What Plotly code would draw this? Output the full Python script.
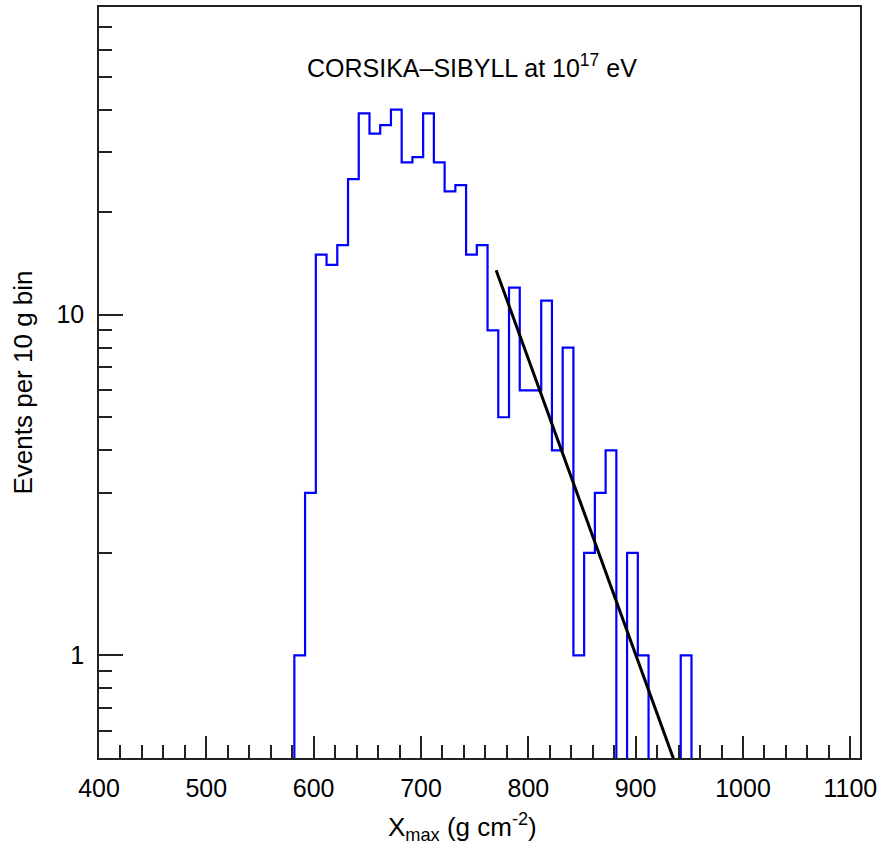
import plotly.graph_objects as go

# ---- data ----
bin_low_edges = [582, 592, 602, 612, 622, 632, 642, 652, 662, 672, 682, 692, 702, 712,
                 722, 732, 742, 752, 762, 772, 782, 792, 802, 812, 822, 832, 842, 852,
                 862, 872, 882, 892, 902, 912, 922, 932, 942]
bin_width = 10
counts = [1, 3, 15, 14, 16, 25, 39, 34, 36, 40, 28, 29, 39, 28,
          23, 24, 15, 16, 9, 5, 12, 6, 6, 11, 4, 8, 1, 2,
          3, 4, 0, 2, 1, 0, 0, 0, 1]

fit_x = [770, 936]
fit_y = [13.5, 0.49]

x_tick_vals = [400, 500, 600, 700, 800, 900, 1000, 1100]
x_tick_text = ["400", "500", "600", "700", "800", "900", "1000", "1100"]
x_minor_vals = [v for v in range(400, 1110, 20)]
y_tick_vals = [1, 10]
y_tick_text = ["1", "10"]
y_minor_vals = [0.6, 0.7, 0.8, 0.9, 2, 3, 4, 5, 6, 7, 8, 9, 20, 30, 40, 50, 60, 70]

title_text = "CORSIKA\u2013SIBYLL at 10<sup>17</sup> eV"
x_title = "X<sub>max</sub> (g cm<sup>-2</sup>)"
y_title = "Events per 10 g bin"

# ---- build step outline (zero bins drawn down below the frame) ----
floor = 0.2
draw_counts = [c if c > 0 else floor for c in counts]
xs = [bin_low_edges[0]] + bin_low_edges + [bin_low_edges[-1] + bin_width]
ys = [floor] + draw_counts + [floor]

FONT = "Liberation Sans, Arial, Helvetica, sans-serif"
TICK_SIZE = 25
TITLE_SIZE = 26

fig = go.Figure()
fig.add_trace(go.Scatter(x=xs, y=ys, mode="lines", line=dict(color="#0000ff", width=2.2, shape="hv"),
                         showlegend=False, hoverinfo="skip"))
fig.add_trace(go.Scatter(x=fit_x, y=fit_y, mode="lines", line=dict(color="black", width=3),
                         showlegend=False, hoverinfo="skip"))

fig.update_layout(
    width=882, height=865,
    margin=dict(l=99, r=20, t=5, b=107),
    paper_bgcolor="white", plot_bgcolor="white",
    font=dict(family=FONT, size=TICK_SIZE, color="black"),
    xaxis=dict(range=[400, 1109], showgrid=False, zeroline=False,
               showline=True, linecolor="#222", linewidth=1.5, mirror=True,
               ticks="inside", ticklen=22, tickwidth=1.5, tickcolor="#222",
               tickmode="array", tickvals=x_tick_vals, ticktext=x_tick_text,
               tickfont=dict(size=TICK_SIZE, family=FONT, color="black"),
               ticklabelstandoff=7,
               minor=dict(ticks="inside", ticklen=13, tickwidth=1.5, tickcolor="#222",
                          tickmode="array", tickvals=x_minor_vals, showgrid=False)),
    yaxis=dict(type="log", range=[-0.301, 1.903], showgrid=False, zeroline=False,
               showline=True, linecolor="#222", linewidth=1.5, mirror=True,
               ticks="inside", ticklen=24, tickwidth=1.5, tickcolor="#222",
               tickmode="array", tickvals=y_tick_vals, ticktext=y_tick_text,
               tickfont=dict(size=TICK_SIZE, family=FONT, color="black"),
               ticklabelstandoff=8,
               minor=dict(ticks="inside", ticklen=13, tickwidth=1.5, tickcolor="#222",
                          tickmode="array", tickvals=y_minor_vals, showgrid=False),
               title=dict(text=y_title, font=dict(size=TITLE_SIZE, family=FONT, color="black"),
                          standoff=16)),
    annotations=[
        dict(text=title_text, xref="paper", yref="paper", x=0.49, y=0.9217,
             xanchor="center", yanchor="middle", showarrow=False,
             font=dict(size=TICK_SIZE, family=FONT, color="black")),
        dict(text=x_title, xref="paper", yref="paper", x=0.478, y=-0.092,
             xanchor="center", yanchor="middle", showarrow=False,
             font=dict(size=TITLE_SIZE, family=FONT, color="black")),
    ],
)

fig.write_html("out.html")
